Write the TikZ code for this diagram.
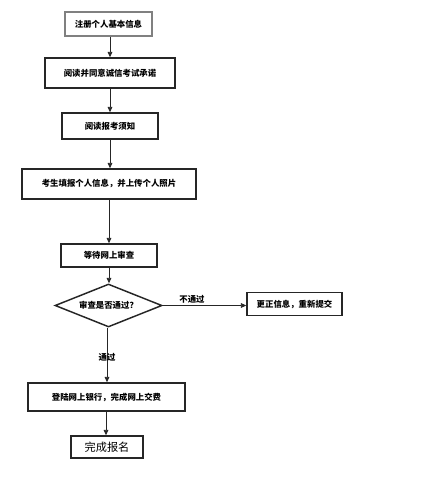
\documentclass[tikz,border=0pt]{standalone}
\usepackage{fontspec}
\newfontfamily\cjk{Noto Sans CJK SC}
\usetikzlibrary{shapes.geometric,arrows.meta}
\begin{document}
\begin{tikzpicture}[x=0.75pt,y=-0.75pt,
  box/.style={draw=black!85,line width=1.1pt,minimum height=#1*0.75pt,inner sep=0pt,font=\cjk\bfseries\fontsize{6.3pt}{7pt}\selectfont},
  box/.default=23,
  arr/.style={-{Triangle[length=4pt,width=3.5pt]},line width=0.6pt,draw=black!85},
  lab/.style={font=\cjk\fontsize{6.3pt}{7pt}\selectfont\bfseries,inner sep=1pt}]
\useasboundingbox (0,0) rectangle (429,496);
\node[box=24,draw=black!50,minimum width=87*0.75pt] (b1) at (108.5,24) {注册个人基本信息};
\node[box=30,minimum width=130*0.75pt] (b2) at (110,73) {阅读并同意诚信考试承诺};
\node[box=26,minimum width=96*0.75pt] (b3) at (110,126) {阅读报考须知};
\node[box=30,minimum width=174*0.75pt] (b4) at (109,184) {考生填报个人信息，并上传个人照片};
\node[box=23,minimum width=96*0.75pt] (b5) at (109,255.5) {等待网上审查};
\node[draw=black!85,line width=1.1pt,diamond,aspect=2.5,minimum width=107*0.75pt,minimum height=43*0.75pt,inner sep=0pt,font=\cjk\bfseries\fontsize{6.3pt}{7pt}\selectfont] (d) at (108.5,305.5) {审查是否通过？};
\node[box=23,minimum width=95*0.75pt] (r) at (294.5,304) {更正信息，重新提交};
\node[box=28,minimum width=157*0.75pt] (b6) at (106.5,397) {登陆网上银行，完成网上交费};
\node[box=22,minimum width=72*0.75pt,font=\cjk\fontsize{8.4pt}{9pt}\selectfont] (b7) at (107,447) {完成报名};
\draw[arr] (b1.south -| 110,0) -- (b2.north -| 110,0);
\draw[arr] (b2.south -| 110,0) -- (b3.north -| 110,0);
\draw[arr] (b3.south -| 110,0) -- (b4.north -| 110,0);
\draw[arr] (b4.south -| 109,0) -- (b5.north -| 109,0);
\draw[arr] (b5.south -| 109,0) -- (d.north -| 109,0);
\draw[arr] (d.east) -- node[lab,above,pos=0.35] {不通过} (d.east -| r.west);
\draw[arr] (d.south -| 107,0) -- node[lab,pos=0.55] {通过} (b6.north -| 107,0);
\draw[arr] (b6.south -| 106,0) -- (b7.north -| 106,0);
\end{tikzpicture}
\end{document}
